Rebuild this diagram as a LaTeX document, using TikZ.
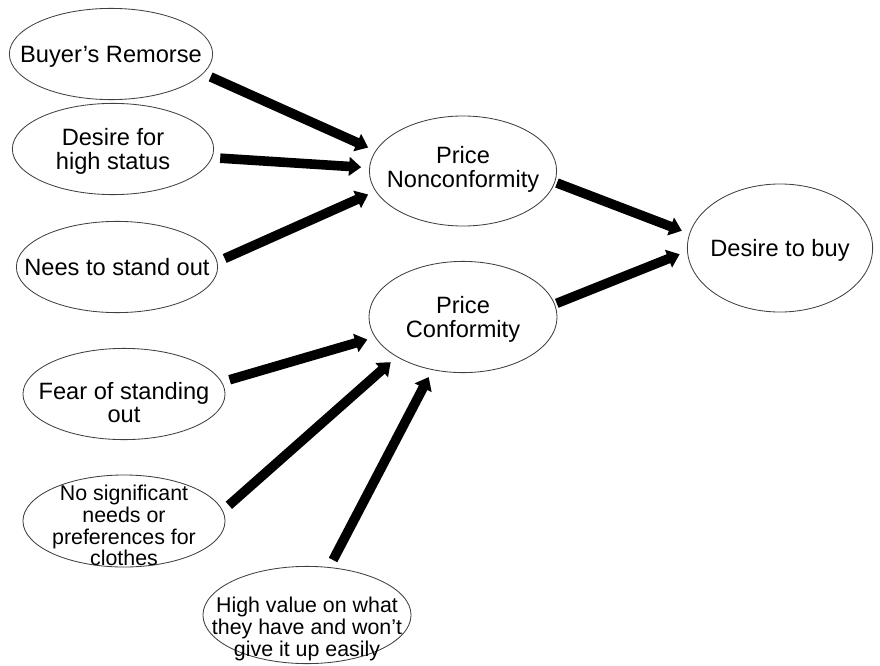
\documentclass[tikz,border=0pt]{standalone}
\usepackage{fontspec}
\setmainfont{Liberation Sans}
\usetikzlibrary{shapes.geometric,arrows.meta}
\newcommand\lbl[2][-7pt]{\makebox[0pt]{\smash{\raisebox{#1}{\begin{tabular}{@{}c@{}}#2\end{tabular}}}}}

\begin{document}
\begin{tikzpicture}[x=0.025cm, y=-0.025cm,
	blob/.style={ellipse, draw=black!75, line width=0.6pt, inner sep=0pt, font=\fontsize{16.8}{16.5}\selectfont},
	smalltext/.style={font=\fontsize{15.2}{15}\selectfont},
	push/.style={line width=0.24cm, -{Triangle[length=0.3cm,width=0.46cm]}, shorten <=0.2cm, shorten >=0.2cm}]
			%%%%% START %%%%%
			\useasboundingbox (0, 0) rectangle (880, 665);
			
			\node[blob, minimum width=5.08cm, minimum height=2.28cm] (remorse) at (111, 54) {\lbl{Buyer’s Remorse}};
			\node[blob, minimum width=5.03cm, minimum height=2.28cm] (status) at (113, 149) {\lbl{Desire for\\high status}};
			\node[blob, minimum width=5.03cm, minimum height=2.28cm] (standout) at (117, 267) {\lbl{Nees to stand out}};
			
			\node[blob, minimum width=4.68cm, minimum height=2.75cm] (nonconf) at (463, 171) {\lbl[-4pt]{Price\\Nonconformity}};
			\node[blob, minimum width=4.70cm, minimum height=2.78cm] (conf) at (463, 317) {\lbl{Price\\Conformity}};
			\node[blob, minimum width=4.63cm, minimum height=3.20cm] (buy) at (780, 248) {\lbl{Desire to buy}};
			
			\node[blob, minimum width=5.05cm, minimum height=2.28cm] (fear) at (124, 394) {\lbl[-13pt]{Fear of standing\\out}};
			\node[blob, smalltext, minimum width=5.05cm, minimum height=2.30cm] (needs) at (124, 521) {\lbl[-9pt]{No significant\\needs or\\preferences for\\clothes}};
			\node[blob, smalltext, minimum width=5.20cm, minimum height=2.43cm] (value) at (307, 615) {\lbl[-14pt]{High value on what\\they have and won’t\\give it up easily}};
			
			\draw[push] (remorse.-12) -- (nonconf.167);
			\draw[push] (status.-5) -- (nonconf.178);
			\draw[push] (standout.3) -- (nonconf.193);
			
			\draw[push, shorten <=0.05cm] (nonconf.-7) -- (buy.171);
			\draw[push, shorten <=0.05cm] (conf.8) -- (buy.182);
			
			\draw[push] (fear.7) -- (conf.193);
			\draw[push] (needs.6) -- (conf.211);
			\draw[push] (value.65) -- (conf.240);
			
			%%%%% END %%%%%
\end{tikzpicture}
\end{document}
